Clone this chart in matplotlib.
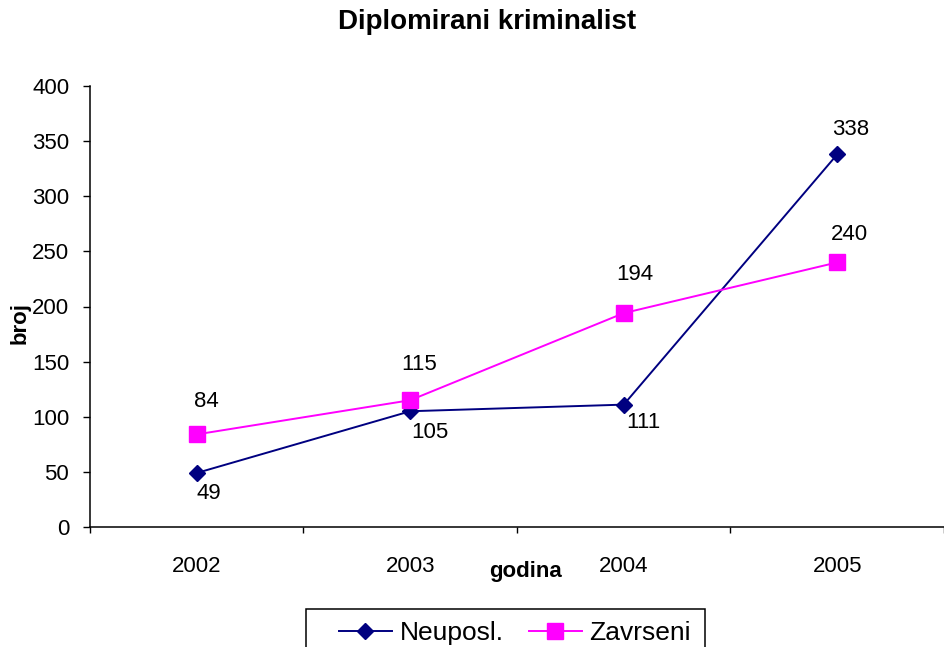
import matplotlib
matplotlib.use("Agg")
import matplotlib.pyplot as plt
from matplotlib.ticker import FixedLocator
from matplotlib.patches import Rectangle

plt.rcParams['font.family'] = ['Liberation Sans', 'DejaVu Sans']

years = ['2002', '2003', '2004', '2005']
neuposl = [49, 105, 111, 338]
zavrseni = [84, 115, 194, 240]

title = 'Diplomirani kriminalist'
xlabel = 'godina'
ylabel = 'broj'

# label offsets (points) - style only
off_n = [(9, -15), (14, -15), (14, -13), (10, 18)]
off_z = [(7, 24), (6.5, 26), (8, 28), (8.6, 20)]

fig = plt.figure(figsize=(9.45, 6.47), dpi=100)
ax = fig.add_axes([90/945, 1-527/647, 854/945, (527-86)/647])

x = list(range(len(years)))
l1, = ax.plot(x, neuposl, color='#000080', lw=1.4, marker='D', markersize=8,
              label='Neuposl.', clip_on=False)
l2, = ax.plot(x, zavrseni, color='#FF00FF', lw=1.4, marker='s', markersize=11,
              label='Zavrseni', clip_on=False)

for xi, v, o in zip(x, neuposl, off_n):
    ax.annotate(str(v), (xi, v), xytext=o, textcoords='offset points',
                ha='center', va='center', fontsize=16)
for xi, v, o in zip(x, zavrseni, off_z):
    ax.annotate(str(v), (xi, v), xytext=o, textcoords='offset points',
                ha='center', va='center', fontsize=16)

ax.set_xlim(-0.5, len(years) - 0.5)
ax.set_ylim(0, 400)
ax.set_yticks(range(0, 401, 50))
ax.tick_params(axis='y', direction='out', length=5, width=1, labelsize=16, pad=10)
ax.set_xticks(x)
ax.set_xticklabels(years)
ax.tick_params(axis='x', which='major', length=0, labelsize=16, pad=21)
ax.xaxis.set_minor_locator(FixedLocator([i - 0.5 for i in range(len(years) + 1)]))
ax.tick_params(axis='x', which='minor', direction='out', length=4.5, width=1)

for s in ['top', 'right']:
    ax.spines[s].set_visible(False)
for s in ['left', 'bottom']:
    ax.spines[s].set_linewidth(1.1)

fig.text(487/945, 1-22/647, title, ha='center', va='center', fontsize=20, fontweight='bold')
fig.text(525/945, 1-572/647, xlabel, ha='center', va='center', fontsize=16, fontweight='bold')
fig.text(20/945, 1-323/647, ylabel, ha='center', va='center', fontsize=16, fontweight='bold', rotation=90)

leg = fig.legend(handles=[l1, l2], loc='center left', bbox_to_anchor=(339/945, 1-633/647),
                 ncol=2, fontsize=19, frameon=False, handlelength=2.0,
                 handletextpad=0.3, columnspacing=0.95, borderpad=0, borderaxespad=0)
fig.patches.append(Rectangle((306/945, 1-660/647), (705-306)/945, (660-609)/647,
                             transform=fig.transFigure, fill=False, edgecolor='black',
                             linewidth=1.1))

fig.savefig('out.png', dpi=100)
